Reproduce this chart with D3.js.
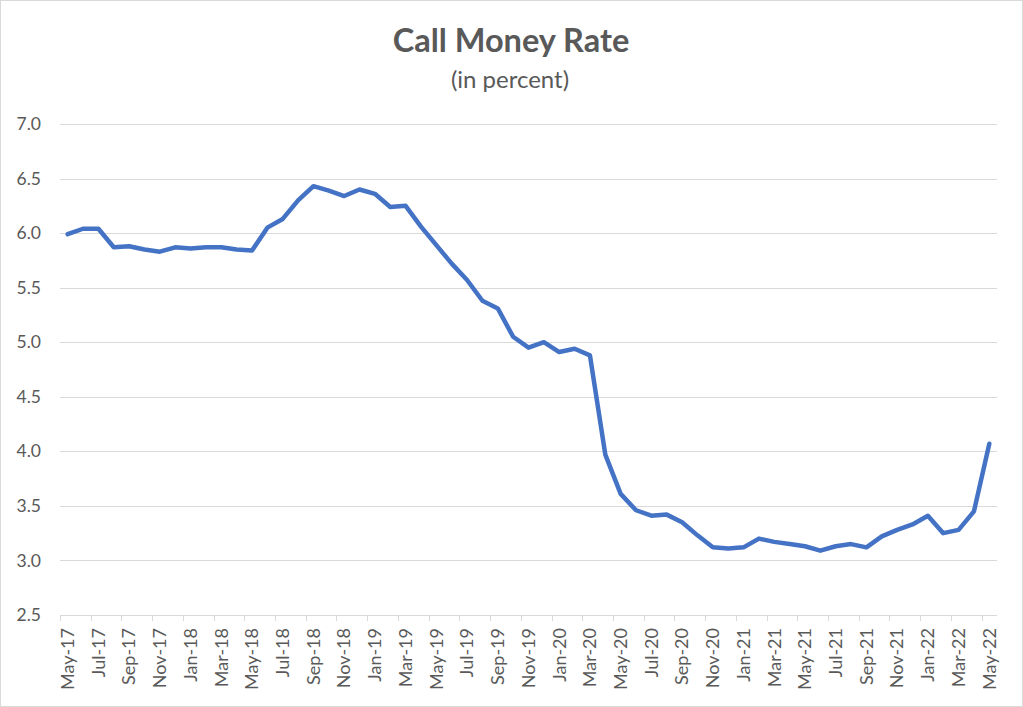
<!DOCTYPE html>
<html>
<head>
<meta charset="utf-8">
<script src="https://cdn.jsdelivr.net/npm/d3@7"></script>
<style>
  html, body { margin: 0; padding: 0; background: #fff; }
  svg { display: block; }
  text { font-family: Lato, "Open Sans", sans-serif; }
</style>
</head>
<body>
<svg id="chart" width="1023" height="707"></svg>
<script>
const months = [
  "May-17","Jun-17","Jul-17","Aug-17","Sep-17","Oct-17","Nov-17","Dec-17",
  "Jan-18","Feb-18","Mar-18","Apr-18","May-18","Jun-18","Jul-18","Aug-18","Sep-18","Oct-18","Nov-18","Dec-18",
  "Jan-19","Feb-19","Mar-19","Apr-19","May-19","Jun-19","Jul-19","Aug-19","Sep-19","Oct-19","Nov-19","Dec-19",
  "Jan-20","Feb-20","Mar-20","Apr-20","May-20","Jun-20","Jul-20","Aug-20","Sep-20","Oct-20","Nov-20","Dec-20",
  "Jan-21","Feb-21","Mar-21","Apr-21","May-21","Jun-21","Jul-21","Aug-21","Sep-21","Oct-21","Nov-21","Dec-21",
  "Jan-22","Feb-22","Mar-22","Apr-22","May-22"
];
const callMoneyRate = [
  5.99, 6.04, 6.04, 5.87, 5.88, 5.85, 5.83, 5.87,
  5.86, 5.87, 5.87, 5.85, 5.84, 6.05, 6.13, 6.30, 6.43, 6.39, 6.34, 6.40,
  6.36, 6.24, 6.25, 6.06, 5.89, 5.72, 5.57, 5.38, 5.31, 5.05, 4.95, 5.00,
  4.91, 4.94, 4.88, 3.97, 3.61, 3.46, 3.41, 3.42, 3.35, 3.23, 3.12, 3.11,
  3.12, 3.20, 3.17, 3.15, 3.13, 3.09, 3.13, 3.15, 3.12, 3.22, 3.28, 3.33,
  3.41, 3.25, 3.28, 3.45, 4.07
];
const yTicks = [2.5, 3.0, 3.5, 4.0, 4.5, 5.0, 5.5, 6.0, 6.5, 7.0];
const titleText = "Call Money Rate";
const subtitleText = "(in percent)";

const svg = d3.select("#chart");
const W = 1023, H = 707;
const margin = { left: 60, right: 26, top: 124, bottom: 92 };
const plotW = W - margin.left - margin.right;
const plotH = H - margin.top - margin.bottom;

// outer border
svg.append("rect")
  .attr("x", 0.5).attr("y", 0.5)
  .attr("width", W - 1).attr("height", H - 1)
  .attr("fill", "#fff").attr("stroke", "#d9d9d9");

const g = svg.append("g").attr("transform", `translate(${margin.left},${margin.top})`);

const x = d3.scaleBand().domain(months).range([0, plotW]).padding(0);
const y = d3.scaleLinear().domain([2.5, 7.0]).range([plotH, 0]);

// gridlines
g.append("g")
  .selectAll("line")
  .data(yTicks.filter(t => t > 2.5))
  .join("line")
  .attr("x1", 0).attr("x2", plotW)
  .attr("y1", d => Math.round(y(d)) + 0.5).attr("y2", d => Math.round(y(d)) + 0.5)
  .attr("stroke", "#d9d9d9").attr("stroke-width", 1);

// y axis labels
const yAxis = d3.axisLeft(y).tickValues(yTicks).tickFormat(d3.format(".1f")).tickSize(0).tickPadding(19);
const yg = g.append("g").call(yAxis);
yg.select(".domain").remove();
yg.selectAll("text").attr("fill", "#595959").style("font-size", "17.5px");

// x axis
const xAxisG = g.append("g").attr("transform", `translate(0,${plotH})`);
xAxisG.append("line")
  .attr("x1", 0).attr("x2", plotW).attr("y1", 0.5).attr("y2", 0.5)
  .attr("stroke", "#d9d9d9").attr("stroke-width", 1);
const tickIdx = d3.range(0, months.length + 1, 2);
xAxisG.selectAll("line.tick")
  .data(tickIdx)
  .join("line")
  .attr("class", "tick")
  .attr("x1", i => Math.round(i < months.length ? x(months[i]) : plotW) + 0.5)
  .attr("x2", i => Math.round(i < months.length ? x(months[i]) : plotW) + 0.5)
  .attr("y1", 0).attr("y2", 6)
  .attr("stroke", "#d9d9d9");
const labelMonths = months.filter((m, i) => i % 2 === 0);
xAxisG.selectAll("text.lbl")
  .data(labelMonths)
  .join("text")
  .attr("class", "lbl")
  .attr("transform", d => `translate(${x(d) + x.bandwidth() / 2},13) rotate(-90)`)
  .attr("text-anchor", "end")
  .attr("dy", "0.35em")
  .attr("fill", "#595959")
  .style("font-size", "18px")
  .text(d => d);

// line
const line = d3.line()
  .x((d, i) => x(months[i]) + x.bandwidth() / 2)
  .y(d => y(d));
g.append("path")
  .datum(callMoneyRate)
  .attr("d", line)
  .attr("fill", "none")
  .attr("stroke", "#4472c4")
  .attr("stroke-width", 4.5)
  .attr("stroke-linejoin", "round")
  .attr("stroke-linecap", "round");

// titles
svg.append("text")
  .attr("x", 511).attr("y", 52)
  .attr("text-anchor", "middle")
  .attr("fill", "#595959")
  .style("font-size", "32.5px").style("font-weight", "bold")
  .text(titleText);
svg.append("text")
  .attr("x", 510).attr("y", 88)
  .attr("text-anchor", "middle")
  .attr("fill", "#595959")
  .style("font-size", "24px")
  .text(subtitleText);
</script>
</body>
</html>
